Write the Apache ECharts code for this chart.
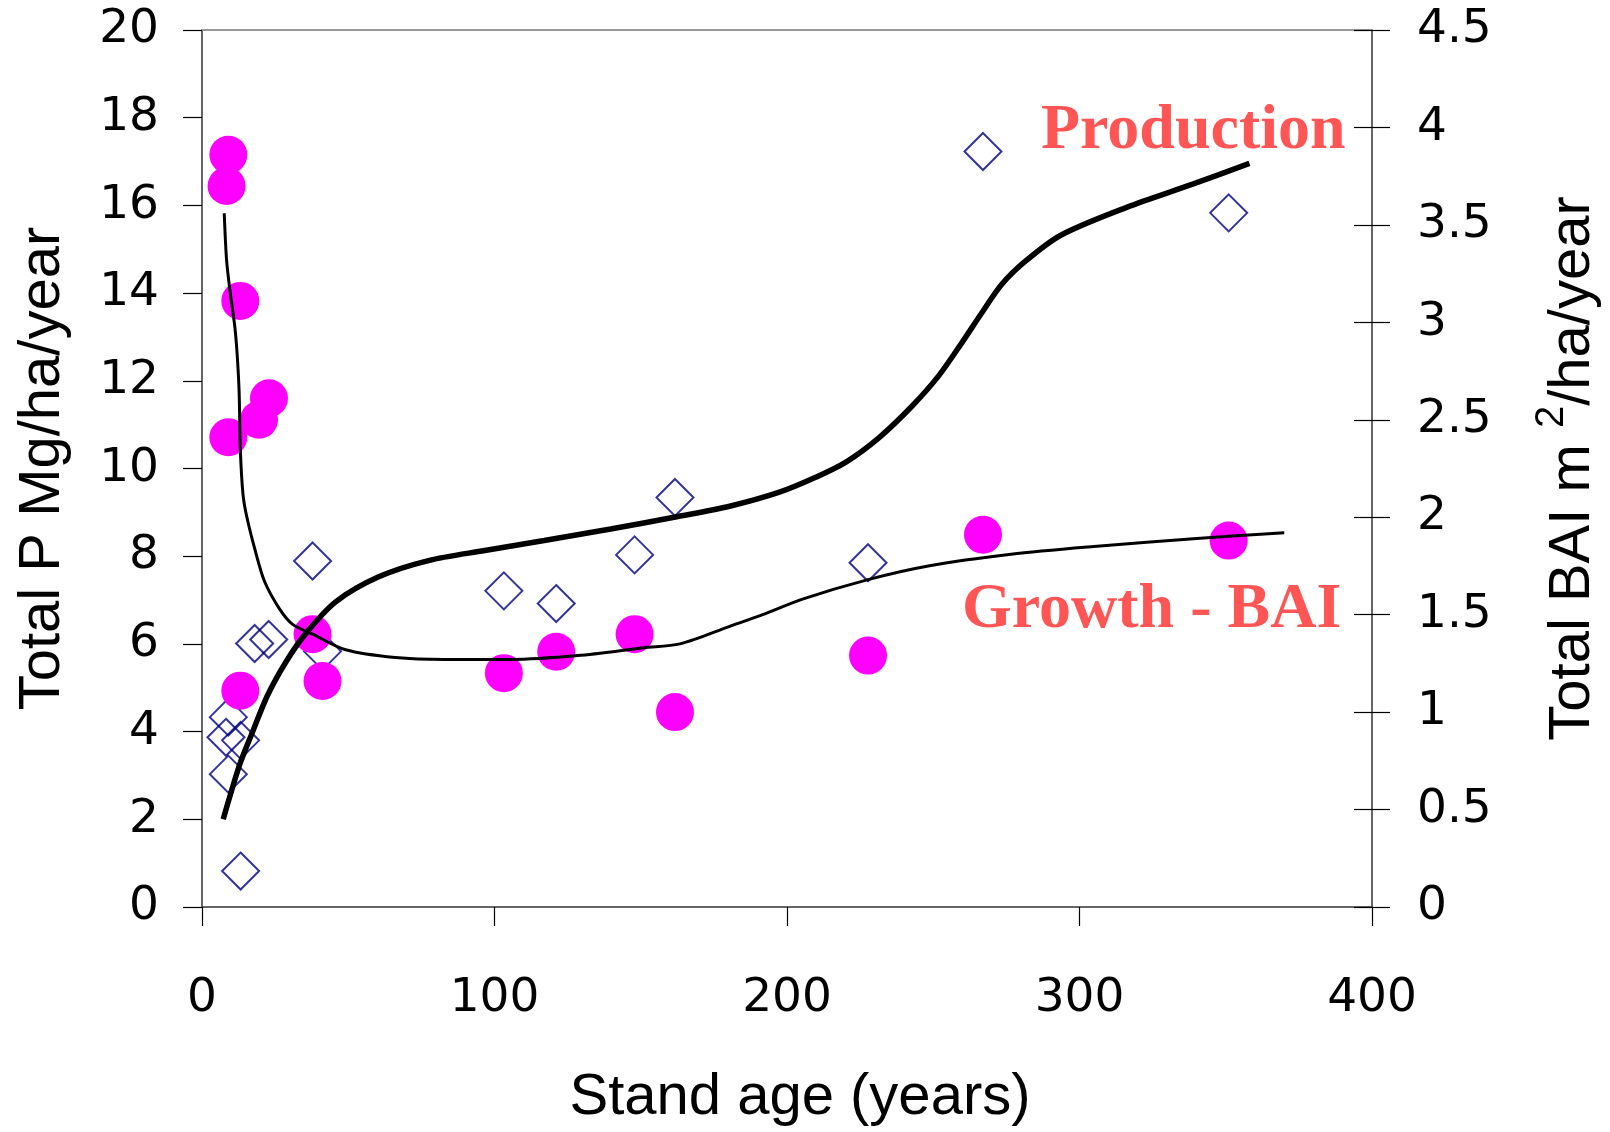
<!DOCTYPE html>
<html><head><meta charset="utf-8">
<script src="https://cdn.jsdelivr.net/npm/echarts@6/dist/echarts.min.js"></script>
<style>html,body{margin:0;padding:0;background:#fff}#c{width:1610px;height:1132px}</style>
</head><body><div id="c"></div>
<script>
// Tick labels
const xTickLabels = ['0','100','200','300','400'];
const leftTickLabels = ['0','2','4','6','8','10','12','14','16','18','20'];
const rightTickLabels = ['0','0.5','1','1.5','2','2.5','3','3.5','4','4.5'];

// Production (Total P, left axis) - open diamonds
const prodAge = [8.2, 9.0, 9.0, 13.2, 13.2, 18.0, 22.8, 37.8, 41.2, 103.2, 121.1, 147.9, 161.7, 227.7, 267, 351];
const prodVal = [3.87, 4.33, 3.03, 0.82, 3.80, 6.01, 6.10, 7.89, 5.83, 7.21, 6.92, 8.03, 9.34, 7.85, 17.23, 15.83];

// Growth - BAI (right axis) - magenta circles
const baiAge = [9.0, 8.4, 9.0, 13.1, 13.1, 19.5, 22.9, 37.8, 41.2, 103.2, 121.1, 147.9, 161.7, 227.7, 267, 351];
const baiVal = [3.86, 3.70, 2.41, 3.11, 1.11, 2.50, 2.61, 1.40, 1.16, 1.20, 1.31, 1.40, 1.00, 1.29, 1.91, 1.88];

// Fitted curve for Production (left axis)
const prodFitAge = [7.25, 12.9, 16.9, 22.5, 28.8, 35.5, 45.7, 60.4, 77.4, 96.7, 117, 139.7, 162.3, 180.4, 197.4, 209.8, 220, 231.4, 242.7, 251.7, 259.7, 266.5, 273.3, 281.2, 293.6, 316.3, 338.9, 358.1];
const prodFitVal = [2.0, 3.25, 3.93, 4.84, 5.6, 6.24, 6.96, 7.53, 7.9, 8.13, 8.36, 8.62, 8.9, 9.14, 9.46, 9.8, 10.14, 10.7, 11.42, 12.1, 12.86, 13.54, 14.19, 14.71, 15.32, 15.96, 16.49, 16.96];

// Fitted curve for Growth - BAI (right axis)
const baiFitAge = [7.6, 8.4, 9.5, 11.2, 12.0, 12.7, 13.1, 14.0, 15.2, 18.0, 21.4, 26.5, 31.0, 37.8, 49.1, 66.1, 83.1, 105.7, 128.4, 151, 163.4, 180.4, 191.7, 205.3, 227.7, 248.3, 276.6, 304.9, 338.9, 370];
const baiFitVal = [3.56, 3.32, 3.17, 2.98, 2.84, 2.64, 2.35, 2.12, 2.01, 1.84, 1.67, 1.53, 1.45, 1.40, 1.32, 1.28, 1.27, 1.27, 1.29, 1.33, 1.35, 1.44, 1.50, 1.58, 1.68, 1.75, 1.81, 1.85, 1.89, 1.92];

const zip = (a, b) => a.map((v, i) => [v, b[i]]);
const num = arr => arr.map(Number);
const xt = num(xTickLabels), lt = num(leftTickLabels), rt = num(rightTickLabels);

const tickFont = {fontFamily: 'DejaVu Sans', fontSize: 47, color: '#000'};
const nameFont = {fontFamily: 'Liberation Sans', fontSize: 58, color: '#000'};
const axisLine = {show: true, onZero: false, lineStyle: {color: '#333', width: 1.5}};

const chart = echarts.init(document.getElementById('c'), null, {renderer: 'canvas'});
chart.setOption({
  animation: false,
  backgroundColor: '#fff',
  grid: {left: 202, right: 226, top: 30, bottom: 221, containLabel: false},
  xAxis: [{
    type: 'value', min: xt[0], max: xt[xt.length - 1], interval: xt[1] - xt[0],
    position: 'bottom',
    axisLine: axisLine,
    axisTick: {show: true, inside: false, length: 19, lineStyle: {color: '#000', width: 1.2}},
    axisLabel: Object.assign({margin: 68}, tickFont),
    splitLine: {show: false},
    name: 'Stand age (years)', nameLocation: 'middle', nameGap: 162,
    nameTextStyle: Object.assign({padding: [0, 0, 0, 26]}, nameFont)
  }, {
    type: 'value', min: xt[0], max: xt[xt.length - 1], position: 'top',
    axisLine: {show: true, onZero: false, lineStyle: {color: '#999', width: 2}},
    axisTick: {show: false}, axisLabel: {show: false}, splitLine: {show: false}
  }],
  yAxis: [{
    type: 'value', min: lt[0], max: lt[lt.length - 1], interval: lt[1] - lt[0],
    position: 'left',
    axisLine: axisLine,
    axisTick: {show: true, inside: false, length: 19, lineStyle: {color: '#000', width: 1.2}},
    axisLabel: Object.assign({margin: 43}, tickFont),
    splitLine: {show: false},
    name: 'Total P Mg/ha/year', nameLocation: 'middle', nameRotate: 90, nameGap: 130,
    nameTextStyle: nameFont
  }, {
    type: 'value', min: rt[0], max: rt[rt.length - 1], interval: rt[1] - rt[0],
    position: 'right',
    axisLine: axisLine,
    axisTick: {show: true, inside: false, length: 18, lineStyle: {color: '#000', width: 1.2}},
    axisLabel: Object.assign({margin: 45}, tickFont),
    splitLine: {show: false},
    name: '{a|Total BAI m }{s|2}{a|/ha/year}', nameLocation: 'middle', nameRotate: 90, nameGap: 160,
    nameTextStyle: Object.assign({}, nameFont, {
      rich: {
        a: {fontFamily: 'Liberation Sans', fontSize: 58, color: '#000', verticalAlign: 'bottom'},
        s: {fontFamily: 'Liberation Sans', fontSize: 40, color: '#000', verticalAlign: 'bottom', padding: [0, 0, 30, 0]}
      }
    })
  }, {
    type: 'value', min: rt[0], max: rt[rt.length - 1], interval: rt[1] - rt[0],
    position: 'right',
    axisLine: {show: false, onZero: false},
    axisTick: {show: true, inside: true, length: 18, lineStyle: {color: '#000', width: 1.2}},
    axisLabel: {show: false},
    splitLine: {show: false}
  }],
  series: [{
    name: 'Production', type: 'scatter', xAxisIndex: 0, yAxisIndex: 0,
    data: zip(prodAge, prodVal), symbol: 'diamond', symbolSize: 37,
    itemStyle: {color: 'rgba(0,0,0,0)', borderColor: '#000080', borderWidth: 2},
    emphasis: {disabled: true}
  }, {
    name: 'Growth - BAI', type: 'scatter', xAxisIndex: 0, yAxisIndex: 1,
    data: zip(baiAge, baiVal), symbol: 'circle', symbolSize: 38,
    itemStyle: {color: '#FF00FF', opacity: 1},
    emphasis: {disabled: true}
  }, {
    name: 'Production fit', type: 'line', xAxisIndex: 0, yAxisIndex: 0,
    data: zip(prodFitAge, prodFitVal), smooth: 0.3,
    showSymbol: false, symbol: 'none',
    lineStyle: {color: '#000', width: 5.5}
  }, {
    name: 'BAI fit', type: 'line', xAxisIndex: 0, yAxisIndex: 1,
    data: zip(baiFitAge, baiFitVal), smooth: 0.3,
    showSymbol: false, symbol: 'none',
    lineStyle: {color: '#000', width: 3}
  }],
  graphic: [{
    type: 'text', x: 1041, y: 131,
    style: {text: 'Production', font: 'bold 64px "Liberation Serif"', fill: '#FF5555', verticalAlign: 'middle'}
  }, {
    type: 'text', x: 962, y: 610,
    style: {text: 'Growth - BAI', font: 'bold 64px "Liberation Serif"', fill: '#FF5555', verticalAlign: 'middle'}
  }]
});
</script>
</body></html>
